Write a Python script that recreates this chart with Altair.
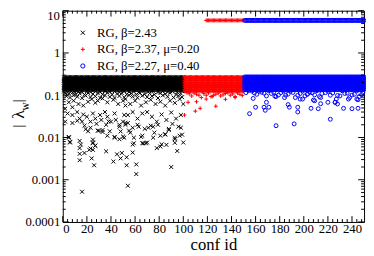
import altair as alt
import pandas as pd

SERIES = ["RG, β=2.43", "RG, β=2.37, μ=0.20", "RG, β=2.27, μ=0.40"]
COLORS = ["black", "red", "blue"]
SHAPES = ["M-1,-1L1,1M-1,1L1,-1", "M-1,0L1,0M0,-1L0,1", "circle"]

BLACK_IDS = list(range(1, 101))
RED_IDS = list(range(101, 151))
BLUE_IDS = list(range(151, 251))
RED_TOP_IDS = list(range(119, 151))
BLUE_TOP_IDS = list(range(151, 251))
TOP_LEVEL = 5.9

BLACK_BAND = [0.265, 0.24, 0.218, 0.198, 0.18, 0.163, 0.148, 0.134]
RED_BAND = [0.27, 0.245, 0.222, 0.2, 0.182, 0.165, 0.15, 0.136, 0.124]
BLUE_BAND = [0.27, 0.245, 0.222, 0.2, 0.182, 0.165, 0.15, 0.136]

BLACK_SCATTER = [
    (3, 0.095), (6, 0.088), (9, 0.1), (12, 0.092), (16, 0.085), (19, 0.098), (23, 0.09),
    (27, 0.094), (31, 0.087), (35, 0.099), (39, 0.091), (43, 0.086), (47, 0.096), (51, 0.089),
    (55, 0.1), (58, 0.093), (62, 0.087), (66, 0.097), (70, 0.09), (74, 0.095), (79, 0.086),
    (83, 0.099), (87, 0.092), (92, 0.088), (96, 0.097), (99, 0.09),
    (2, 0.112), (5, 0.106), (8, 0.115), (11, 0.104), (14, 0.11), (18, 0.103), (21, 0.113),
    (25, 0.107), (29, 0.112), (33, 0.105), (37, 0.114), (41, 0.103), (45, 0.109), (49, 0.112),
    (53, 0.105), (57, 0.111), (61, 0.104), (64, 0.113), (68, 0.106), (72, 0.11), (76, 0.103),
    (81, 0.112), (85, 0.107), (89, 0.114), (94, 0.104), (98, 0.109),
    (1, 0.122), (4, 0.118), (7, 0.125), (10, 0.12), (13, 0.123), (16, 0.117), (20, 0.124),
    (23, 0.119), (27, 0.122), (31, 0.118), (35, 0.125), (39, 0.12), (43, 0.123), (47, 0.117),
    (51, 0.124), (55, 0.119), (59, 0.122), (63, 0.118), (67, 0.125), (71, 0.12), (75, 0.123),
    (79, 0.117), (83, 0.124), (87, 0.119), (91, 0.122), (95, 0.118), (99, 0.125),
    (5, 0.068), (9, 0.074), (2, 0.048), (8, 0.052), (13, 0.062), (17, 0.057), (21, 0.070),
    (24, 0.081), (27, 0.066), (29, 0.074), (33, 0.084), (37, 0.068), (42, 0.078), (46, 0.062),
    (50, 0.074), (52, 0.057), (52, 0.081), (56, 0.062), (60, 0.074), (65, 0.057), (69, 0.068),
    (73, 0.078), (77, 0.062), (81, 0.070), (85, 0.057), (89, 0.074), (93, 0.066), (97, 0.081),
    (100, 0.062),
    (2, 0.0237), (4, 0.037), (8, 0.034), (12, 0.040), (14, 0.028), (16, 0.0237), (17, 0.035),
    (20, 0.031), (23, 0.0237), (25, 0.037), (27, 0.028), (31, 0.034), (32, 0.026), (35, 0.040),
    (37, 0.031), (40, 0.0237), (43, 0.037), (44, 0.026), (47, 0.020), (50, 0.0237), (51, 0.034),
    (54, 0.022), (54, 0.034), (58, 0.040), (62, 0.028), (66, 0.037), (70, 0.040), (74, 0.031),
    (78, 0.0237), (82, 0.035), (86, 0.026), (90, 0.039), (94, 0.028), (98, 0.034),
    (52, 0.020), (63, 0.018), (71, 0.017), (79, 0.020), (88, 0.016), (96, 0.018),
    (56, 0.013), (66, 0.011), (75, 0.0099), (85, 0.012), (93, 0.0091), (70, 0.0076),
    (82, 0.0069), (100, 0.0076),
    (39, 0.014), (37, 0.011), (21, 0.014), (29, 0.0145), (33, 0.0135), (5, 0.0099), (6, 0.0076),
    (14, 0.0083), (23, 0.0055), (25, 0.0076), (27, 0.0064), (43, 0.0099), (47, 0.0091), (50, 0.0105),
    (5, 0.0103), (18, 0.019), (19, 0.0157), (23, 0.017), (25, 0.0089), (30, 0.0145), (33, 0.015),
    (36, 0.020), (43, 0.0103), (48, 0.0139), (51, 0.0099), (55, 0.0145), (58, 0.017), (59, 0.0099),
    (62, 0.020), (65, 0.0103), (67, 0.0073), (69, 0.0073), (73, 0.019), (81, 0.011), (85, 0.0117),
    (93, 0.0099), (97, 0.011), (99, 0.0117),
    (8, 0.022), (12, 0.025), (28, 0.021), (38, 0.024), (47, 0.018), (52, 0.022), (68, 0.016),
    (75, 0.018), (76, 0.013), (88, 0.015), (91, 0.021), (98, 0.017),
    (6, 0.0079), (15, 0.0068), (14, 0.0056), (14, 0.0041), (14, 0.0029), (18, 0.0043), (22, 0.0051),
    (25, 0.0051), (25, 0.0073), (27, 0.0064), (24, 0.0032), (26, 0.0022), (36, 0.0047), (42, 0.0027),
    (45, 0.0040), (49, 0.0043), (48, 0.0032), (53, 0.0034), (53, 0.0022), (58, 0.0044), (58, 0.0068),
    (59, 0.0073), (66, 0.0073), (61, 0.0023), (61, 0.00136), (54, 0.00072), (16, 0.00052),
    (78, 0.0056), (81, 0.0061), (86, 0.0067), (90, 0.0020), (95, 0.0048), (93, 0.0075),
]

RED_SCATTER = [
    (103, 0.115), (107, 0.096), (111, 0.105), (115, 0.088), (119, 0.1), (123, 0.093),
    (127, 0.105), (131, 0.096), (135, 0.11), (139, 0.1), (143, 0.093), (147, 0.105),
    (105, 0.108), (109, 0.112), (113, 0.1), (117, 0.109), (121, 0.113), (125, 0.099),
    (129, 0.112), (133, 0.102), (137, 0.114), (141, 0.107), (145, 0.113), (149, 0.098),
    (104, 0.068), (111, 0.070), (114, 0.049), (110, 0.042), (127, 0.055), (101, 0.034),
    (119, 0.081), (124, 0.093), (135, 0.080), (143, 0.088),
]

BLUE_SCATTER = [
    (152, 0.115), (157, 0.125), (161, 0.105), (165, 0.118), (169, 0.096), (173, 0.11),
    (177, 0.093), (181, 0.115), (185, 0.1), (189, 0.125), (193, 0.088), (197, 0.11),
    (201, 0.096), (205, 0.118), (209, 0.102), (213, 0.093), (218, 0.115), (222, 0.1),
    (226, 0.068), (227, 0.081), (230, 0.096), (234, 0.11), (238, 0.088), (242, 0.105),
    (246, 0.093), (249, 0.115),
    (154, 0.128), (159, 0.113), (163, 0.124), (167, 0.112), (171, 0.127), (175, 0.117),
    (179, 0.101), (183, 0.126), (187, 0.106), (191, 0.116), (195, 0.1), (199, 0.125),
    (203, 0.107), (207, 0.114), (211, 0.128), (215, 0.11), (220, 0.124), (224, 0.113),
    (228, 0.099), (232, 0.127), (236, 0.112), (240, 0.101), (244, 0.126), (248, 0.104),
    (155, 0.0366), (160, 0.052), (167, 0.052), (168, 0.044), (171, 0.052), (169, 0.068),
    (177, 0.019), (188, 0.052), (192, 0.021), (195, 0.052), (195, 0.040), (197, 0.081),
    (206, 0.049), (209, 0.074), (212, 0.048), (214, 0.088), (220, 0.068), (222, 0.027),
    (226, 0.068), (233, 0.049), (240, 0.048), (245, 0.049), (245, 0.078), (237, 0.081),
    (203, 0.105), (184, 0.088), (176, 0.095), (158, 0.084), (187, 0.060), (208, 0.077),
    (214, 0.063), (228, 0.062), (244, 0.081), (199, 0.081),
]

rows = []
for i in BLACK_IDS:
    for v in BLACK_BAND:
        rows.append((i, v, SERIES[0]))
for i, v in BLACK_SCATTER:
    rows.append((i, v, SERIES[0]))
for i in RED_IDS:
    for v in RED_BAND:
        rows.append((i, v, SERIES[1]))
for i, v in RED_SCATTER:
    rows.append((i, v, SERIES[1]))
for i in RED_TOP_IDS:
    rows.append((i, TOP_LEVEL, SERIES[1]))
for i in BLUE_IDS:
    for v in BLUE_BAND:
        rows.append((i, v, SERIES[2]))
for i, v in BLUE_SCATTER:
    rows.append((i, v, SERIES[2]))
for i in BLUE_TOP_IDS:
    rows.append((i, TOP_LEVEL, SERIES[2]))
df = pd.DataFrame(rows, columns=["conf", "lam", "series"])

X_MAJOR = [0, 20, 40, 60, 80, 100, 120, 140, 160, 180, 200, 220, 240]
X_MINOR = [v for v in range(0, 251, 4) if v % 20 != 0]
Y_MAJOR = [0.0001, 0.001, 0.01, 0.1, 1, 10]
Y_AXIS_LABELS = [0.0001, 0.001, 0.01, 0.1, 1]
Y_TOP_LABEL = [10]
Y_MINOR = [m * d for d in [0.0001, 0.001, 0.01, 0.1, 1] for m in range(2, 10)]

W, H = 308, 216
FONT = "Liberation Serif"
xs = alt.Scale(domain=[0, 250], nice=False, zero=False)
ys = alt.Scale(type="log", domain=[0.0001, 10], nice=False)

x_axis = alt.Axis(values=X_MAJOR, ticks=False, domain=False, grid=False,
                  labelFont=FONT, labelFontSize=13, labelColor="black", labelPadding=1,
                  title="conf id", titleFont=FONT, titleFontSize=17, titleFontWeight="normal",
                  titleColor="black", titlePadding=1)
y_axis = alt.Axis(values=Y_AXIS_LABELS, ticks=False, domain=False, grid=False,
                  labelFont=FONT, labelFontSize=13, labelColor="black", labelPadding=3,
                  format="~g", title=None)

points = alt.Chart(df).mark_point(filled=False, strokeWidth=1, size=16, opacity=1).encode(
    x=alt.X("conf:Q", scale=xs, axis=x_axis),
    y=alt.Y("lam:Q", scale=ys, axis=y_axis),
    color=alt.Color("series:N", scale=alt.Scale(domain=SERIES, range=COLORS),
                    legend=alt.Legend(title=None, orient="none", legendX=14, legendY=16,
                                      labelFont=FONT, labelFontSize=13, labelColor="black",
                                      symbolSize=18, symbolStrokeWidth=1, labelOffset=8,
                                      rowPadding=3, padding=0)),
    shape=alt.Shape("series:N", scale=alt.Scale(domain=SERIES, range=SHAPES)),
)

def xticks(vals, length):
    d = pd.DataFrame({"t": vals})
    b = alt.Chart(d).mark_rule(color="black", strokeWidth=1).encode(
        x=alt.X("t:Q", scale=xs, axis=x_axis), y=alt.value(H), y2=alt.value(H - length))
    t = alt.Chart(d).mark_rule(color="black", strokeWidth=1).encode(
        x=alt.X("t:Q", scale=xs, axis=x_axis), y=alt.value(0), y2=alt.value(length))
    return [b, t]

def yticks(vals, length):
    d = pd.DataFrame({"t": vals})
    l = alt.Chart(d).mark_rule(color="black", strokeWidth=1).encode(
        y=alt.Y("t:Q", scale=ys, axis=y_axis), x=alt.value(0), x2=alt.value(length))
    r = alt.Chart(d).mark_rule(color="black", strokeWidth=1).encode(
        y=alt.Y("t:Q", scale=ys, axis=y_axis), x=alt.value(W), x2=alt.value(W - length))
    return [l, r]

ticks = xticks(X_MAJOR, 6) + xticks(X_MINOR, 3) + yticks(Y_MAJOR, 6) + yticks(Y_MINOR, 3)

top_label = alt.Chart(pd.DataFrame({"t": Y_TOP_LABEL})).mark_text(
    font=FONT, fontSize=13, align="right", baseline="top", color="black"
).encode(y=alt.Y("t:Q", scale=ys, axis=y_axis), x=alt.value(-3), text=alt.Text("t:Q", format="~g"))

def label(txt, x, y, size):
    return alt.Chart(pd.DataFrame({"s": [txt]})).mark_text(
        font=FONT, fontSize=size, angle=270, align="center", baseline="middle", color="black"
    ).encode(text="s:N", x=alt.value(x), y=alt.value(y))

ytitle = [label("|", -46, 118, 15), label("λ", -45, 106, 18), label("w", -39, 98, 12),
          label("|", -46, 92, 15)]

chart = alt.layer(points, *ticks, top_label, *ytitle).properties(
    width=W, height=H,
    autosize=alt.AutoSizeParams(type="none"),
    padding={"left": 56, "top": 0, "right": 2, "bottom": 32},
).configure_view(stroke="black", strokeWidth=1)

chart.save("out.html", embed_options={"renderer": "svg", "actions": False})
